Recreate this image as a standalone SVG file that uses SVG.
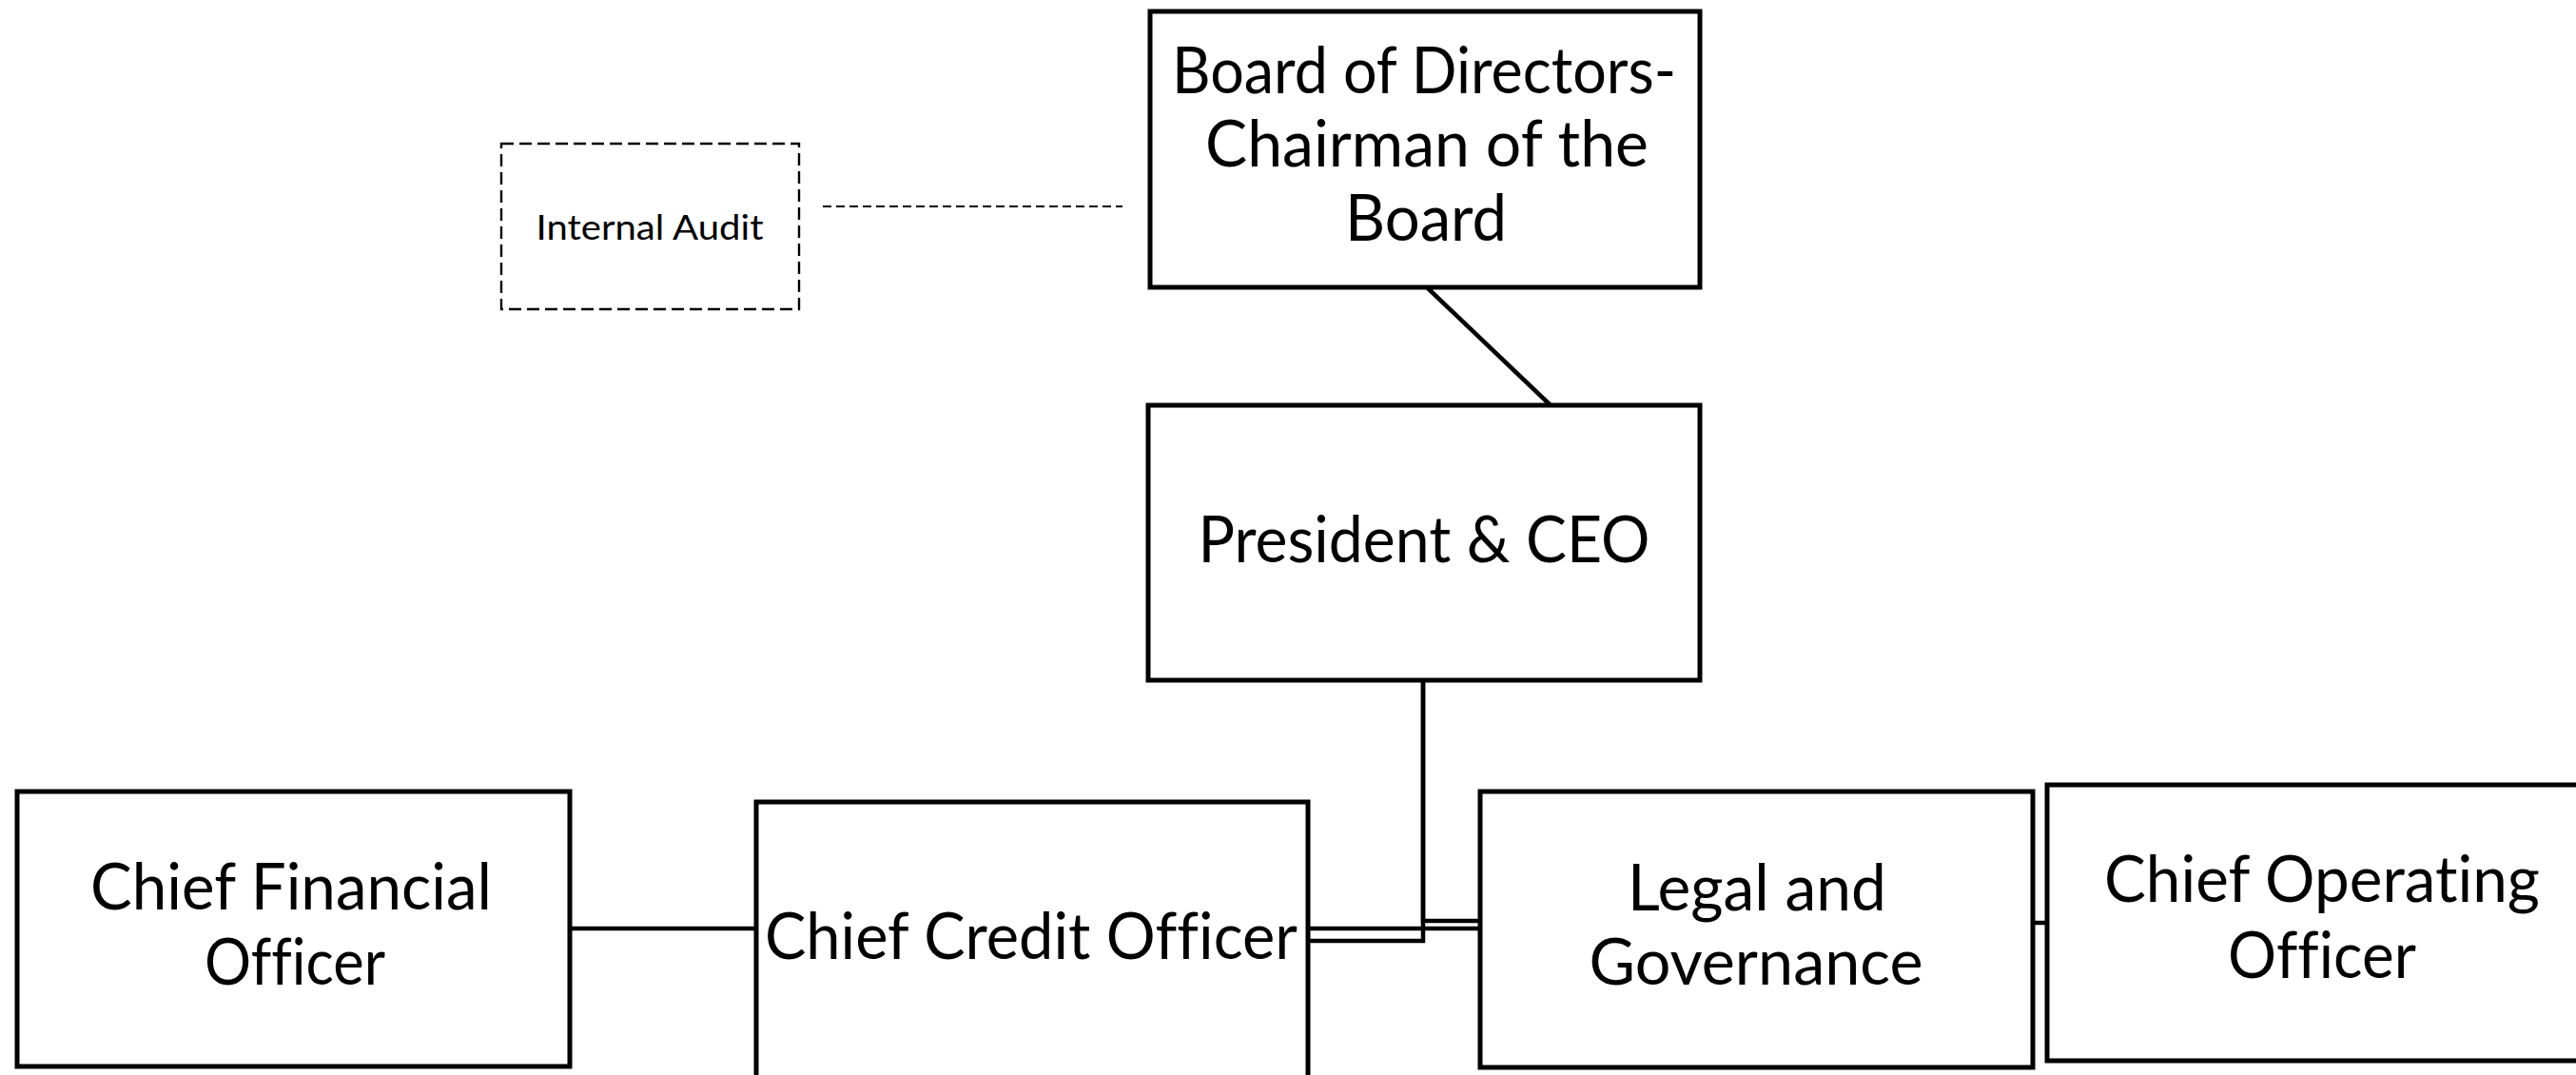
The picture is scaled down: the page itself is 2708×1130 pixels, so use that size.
<svg xmlns="http://www.w3.org/2000/svg" width="2708" height="1130" viewBox="0 0 2708 1130">
  <style>
    .box { fill: #ffffff; stroke: #000000; stroke-width: 5; }
    .dashbox { fill: #ffffff; stroke: #000000; stroke-width: 2.4; stroke-dasharray: 13 6; }
    .conn { fill: none; stroke: #000000; stroke-width: 4.5; stroke-linejoin: miter; }
    .dotted { fill: none; stroke: #000000; stroke-width: 2.2; stroke-dasharray: 9 5; }
    .lbl { font-family: Lato, "Open Sans", "Liberation Sans", sans-serif; font-size: 68px; fill: #000000; text-anchor: middle; font-variant-ligatures: none; font-feature-settings: "liga" 0, "clig" 0; }
    .small { font-size: 37px; }
  </style>
  <rect width="2708" height="1130" fill="#ffffff"/>

  <!-- reporting lines -->
  <g id="connectors">
    <path class="dotted" d="M865 217 H1180"/>
    <path class="conn" d="M1500 302 L1630 426"/>
    <path class="conn" d="M1496 715 V968 H1556"/>
    <path class="conn" d="M1496 715 V989 H1375"/>
    <path class="conn" d="M1375 976 H1556"/>
    <path class="conn" d="M599 976 H795"/>
    <path class="conn" d="M2137 970 H2152"/>
  </g>

  <g id="internal-audit">
    <rect class="dashbox" x="527" y="151" width="313" height="174"/>
    <text class="lbl small" x="683" y="252" textLength="239" lengthAdjust="spacingAndGlyphs">Internal Audit</text>
  </g>

  <g id="board">
    <rect class="box" x="1209" y="12" width="578" height="290"/>
    <text class="lbl" x="1497" y="98" textLength="530" lengthAdjust="spacingAndGlyphs">Board of Directors-</text>
    <text class="lbl" x="1500" y="175" textLength="466" lengthAdjust="spacingAndGlyphs">Chairman of the</text>
    <text class="lbl" x="1499" y="253" textLength="170" lengthAdjust="spacingAndGlyphs">Board</text>
  </g>

  <g id="president">
    <rect class="box" x="1207" y="426" width="580" height="289"/>
    <text class="lbl" x="1497" y="591" textLength="475" lengthAdjust="spacingAndGlyphs">President &amp; CEO</text>
  </g>

  <g id="cfo">
    <rect class="box" x="18" y="832" width="581" height="289"/>
    <text class="lbl" x="306" y="956" textLength="422" lengthAdjust="spacingAndGlyphs">Chief Financial</text>
    <text class="lbl" x="310" y="1035" textLength="190" lengthAdjust="spacingAndGlyphs">Officer</text>
  </g>

  <g id="cco">
    <rect class="box" x="795" y="843" width="580" height="310"/>
    <text class="lbl" x="1084" y="1008" textLength="560" lengthAdjust="spacingAndGlyphs">Chief Credit Officer</text>
  </g>

  <g id="legal">
    <rect class="box" x="1556" y="832" width="581" height="290"/>
    <text class="lbl" x="1847" y="957" textLength="272" lengthAdjust="spacingAndGlyphs">Legal and</text>
    <text class="lbl" x="1846" y="1035" textLength="351" lengthAdjust="spacingAndGlyphs">Governance</text>
  </g>

  <g id="coo">
    <rect class="box" x="2152" y="825" width="600" height="290"/>
    <text class="lbl" x="2441" y="948" textLength="458" lengthAdjust="spacingAndGlyphs">Chief Operating</text>
    <text class="lbl" x="2441" y="1028" textLength="198" lengthAdjust="spacingAndGlyphs">Officer</text>
  </g>
</svg>
